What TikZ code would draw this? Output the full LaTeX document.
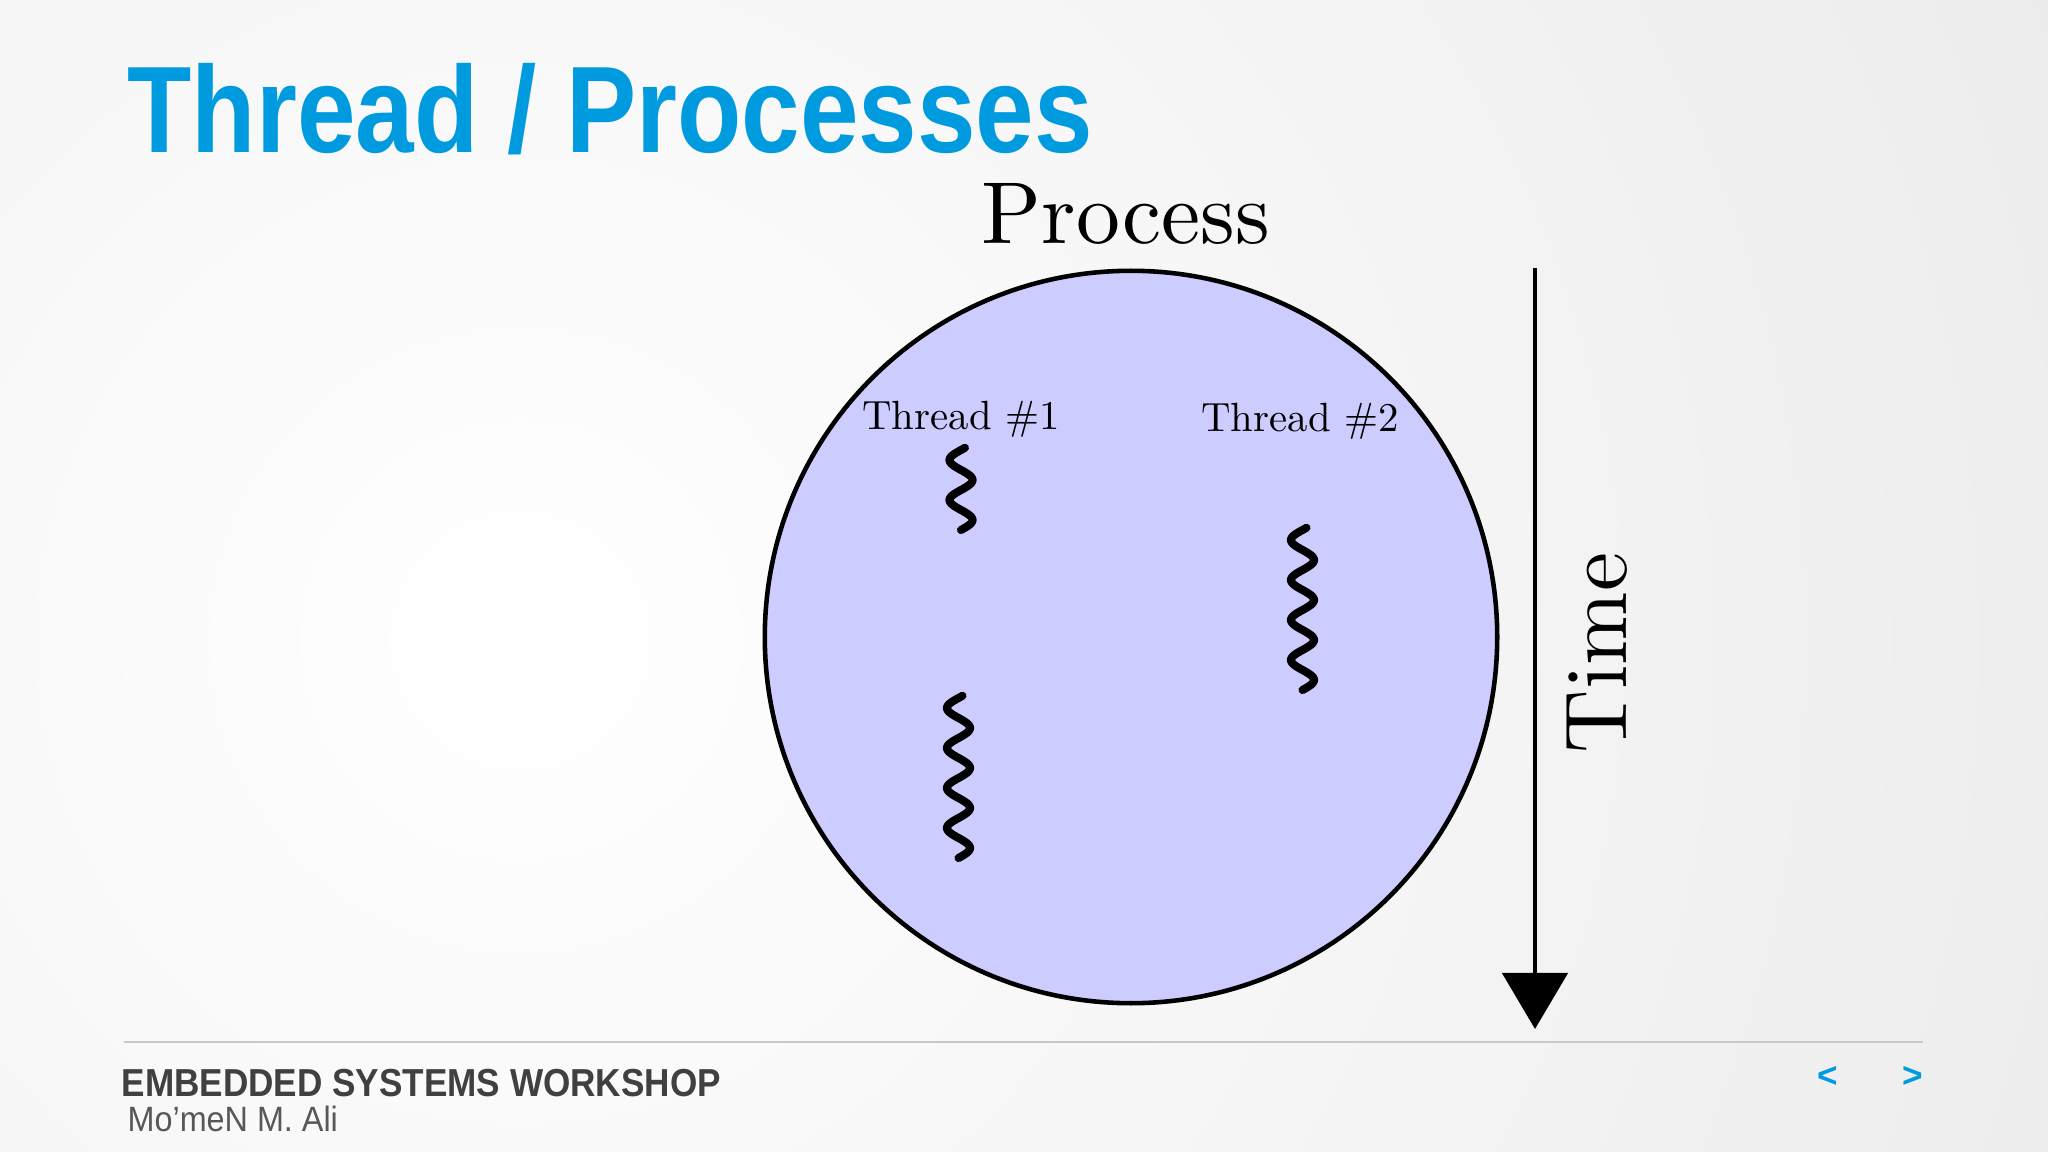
\documentclass[tikz,border=0pt]{standalone}
\usepackage{fontspec}
\newfontfamily\arialf{Liberation Sans}
\usetikzlibrary{arrows.meta}
\definecolor{bggray}{RGB}{229,229,230}
\definecolor{lav}{RGB}{204,204,255}
\definecolor{titleblue}{RGB}{0,155,222}
\definecolor{footdark}{RGB}{64,64,64}
\definecolor{footmid}{RGB}{88,88,88}
\definecolor{rulegray}{RGB}{200,200,200}
\begin{document}
\begin{tikzpicture}[x=0.01cm,y=-0.01cm,
  squig/.style={line width=2.3pt, line cap=round},
  lbl/.style={inner sep=0pt, anchor=base},
  cmbig/.style={font=\fontsize{10}{12}\selectfont, scale=2.5},
  cmsmall/.style={font=\fontsize{10}{12}\selectfont, scale=1.16},
]
\useasboundingbox (0,0) rectangle (2048,1152);
\fill[bggray] (0,0) rectangle (2048,1152);
\begin{scope}
\clip (0,0) rectangle (2048,1152);
\shade[inner color=white, outer color=bggray] (520,640) circle (2300);
\end{scope}

% title
\node[lbl, anchor=base west, text=titleblue, font=\arialf\bfseries\fontsize{35}{40}\selectfont, xscale=0.855] (title) at (127,153) {Thread / Processes};

% process circle
\node[circle, draw, line width=1.3pt, fill=lav, minimum size=7.32cm, inner sep=0pt] (proc) at (1131,637) {};
\node[lbl, cmbig] (ptitle) at (1126,244) {Process};
\node[lbl, cmsmall] (th1) at (961,430) {Thread \#1};
\node[lbl, cmsmall] (th2) at (1300,432) {Thread \#2};

% squiggles
\draw[squig] plot[domain=-20:720, samples=160, variable=\t] ({961-11.5*sin(\t)}, {460+(\t-90)/9});
\draw[squig] plot[domain=-20:1440, samples=300, variable=\t] ({958.5-11.5*sin(\t)}, {708+(\t-90)/9});
\draw[squig] plot[domain=-20:1440, samples=300, variable=\t] ({1302.5-11.5*sin(\t)}, {540+(\t-90)/9});

% time arrow
\coordinate (tstart) at (1535,268);
\coordinate (tend) at (1535,1029);
\draw[line width=1.4pt, -{Triangle[width=0.65cm,length=0.56cm]}] (tstart) -- (tend);
\node[lbl, cmbig, rotate=90] (time) at (1626,653) {Time};

% footer
\coordinate (rl) at (124,1042);
\coordinate (rr) at (1923,1042);
\draw[rulegray, line width=0.6pt] (rl) -- (rr);
\node[lbl, anchor=base west, text=footdark, font=\arialf\bfseries\fontsize{11.1}{13}\selectfont, xscale=0.9] (ws) at (121,1096) {EMBEDDED SYSTEMS WORKSHOP};
\node[lbl, anchor=base west, text=footmid, font=\arialf\fontsize{10}{12}\selectfont, xscale=0.92] (auth) at (127,1131) {Mo’meN M. Ali};
\node[text=titleblue, font=\arialf\bfseries\fontsize{10}{12}\selectfont, inner sep=0pt] (prev) at (1828,1077) {<};
\node[text=titleblue, font=\arialf\bfseries\fontsize{10}{12}\selectfont, inner sep=0pt] (next) at (1913,1077) {>};
\end{tikzpicture}
\end{document}
